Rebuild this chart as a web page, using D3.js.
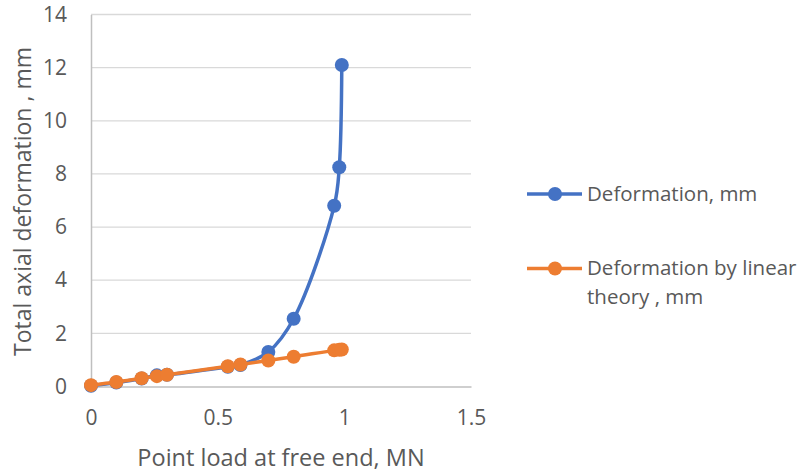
<!DOCTYPE html>
<html><head><meta charset="utf-8">
<script src="https://cdn.jsdelivr.net/npm/d3@7"></script>
<style>body{margin:0;background:#fff;} text{font-family:"Open Sans","Noto Sans",sans-serif;fill:#595959;}</style>
</head><body>
<svg id="c" width="800" height="473"></svg>
<script>
const loadX = [0, 0.1, 0.2, 0.26, 0.3, 0.54, 0.59, 0.7, 0.8, 0.96, 0.98, 0.99];
const deformation = [0.03, 0.15, 0.3, 0.42, 0.44, 0.74, 0.81, 1.3, 2.55, 6.8, 8.25, 12.1];
const deformationLinear = [0.05, 0.17, 0.31, 0.39, 0.44, 0.76, 0.83, 0.98, 1.12, 1.36, 1.38, 1.39];
const xTicks = [0, 0.5, 1, 1.5];
const yTicks = [0, 2, 4, 6, 8, 10, 12, 14];
const seriesNames = ["Deformation, mm", ["Deformation by linear", "theory , mm"]];
const colors = ["#4472c4", "#ed7d31"];

const svg = d3.select("#c");
const x = d3.scaleLinear().domain([0, 1.5]).range([91, 471]);
const y = d3.scaleLinear().domain([0, 14]).range([386.5, 14.5]);

// gridlines
svg.append("g").selectAll("line").data(yTicks.slice(1)).join("line")
  .attr("x1", x(0)).attr("x2", x(1.5)).attr("y1", d => y(d)).attr("y2", d => y(d))
  .attr("stroke", "#d9d9d9").attr("stroke-width", 1.3);

// axes
const xAxis = svg.append("g").attr("transform", `translate(0,${y(0)})`)
  .call(d3.axisBottom(x).tickValues(xTicks).tickSize(0).tickPadding(23.5).tickFormat(d => d));
xAxis.select(".domain").attr("stroke", "#bfbfbf").attr("stroke-width", 1.5);
xAxis.selectAll("text").attr("font-size", 21).style("fill", "#595959").attr("font-family", "Open Sans");

const yAxis = svg.append("g").attr("transform", `translate(${x(0)},0)`)
  .call(d3.axisLeft(y).tickValues(yTicks).tickSize(0).tickPadding(24).tickFormat(d => d));
yAxis.select(".domain").attr("stroke", "#bfbfbf").attr("stroke-width", 1.5);
yAxis.selectAll("text").attr("font-size", 21).style("fill", "#595959").attr("font-family", "Open Sans");

// titles
svg.append("text").attr("x", 281).attr("y", 466).attr("text-anchor", "middle")
  .attr("font-size", 23.5).text("Point load at free end, MN");
svg.append("text").attr("transform", "translate(31,201.5) rotate(-90)").attr("text-anchor", "middle")
  .attr("font-size", 23).text("Total axial deformation , mm");

const line = d3.line().x(d => x(d[0])).y(d => y(d[1])).curve(d3.curveCatmullRom.alpha(0.5));
[deformation, deformationLinear].forEach((vals, i) => {
  const pts = loadX.map((v, j) => [v, vals[j]]);
  const g = svg.append("g");
  g.append("path").datum(pts).attr("d", line).attr("fill", "none")
    .attr("stroke", colors[i]).attr("stroke-width", 3.5).attr("stroke-linecap", "round");
  g.selectAll("circle").data(pts).join("circle")
    .attr("cx", d => x(d[0])).attr("cy", d => y(d[1])).attr("r", 7).attr("fill", colors[i]);
});

// legend
const leg = [{y: 194}, {y: 268.5}];
leg.forEach((l, i) => {
  svg.append("line").attr("x1", 527).attr("x2", 582).attr("y1", l.y).attr("y2", l.y)
    .attr("stroke", colors[i]).attr("stroke-width", 3.5);
  svg.append("circle").attr("cx", 555).attr("cy", l.y).attr("r", 7).attr("fill", colors[i]);
  const names = [].concat(seriesNames[i]);
  names.forEach((n, k) => {
    svg.append("text").attr("x", 587).attr("y", l.y + 6.5 + k * 29).attr("font-size", 20.5).text(n);
  });
});
</script>
</body></html>
